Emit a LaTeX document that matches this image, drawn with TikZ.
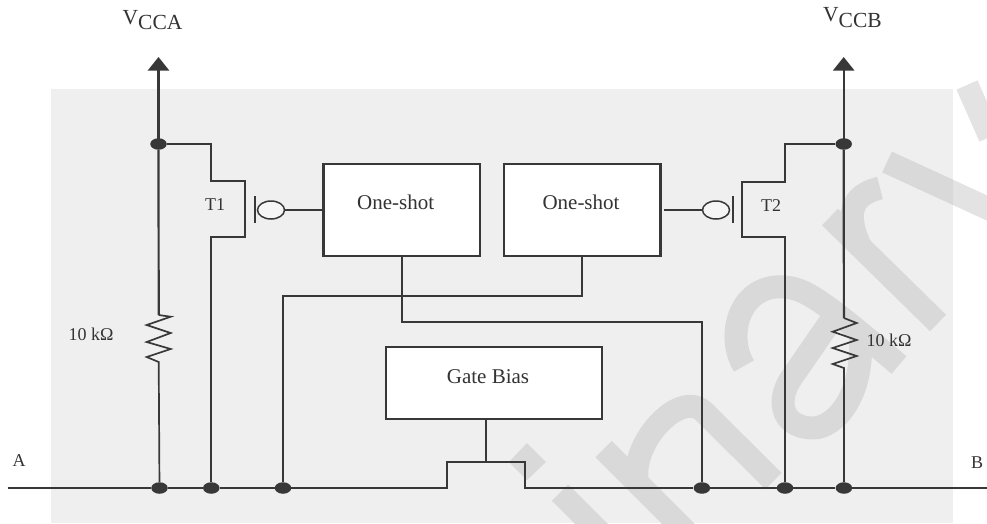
\documentclass[tikz,border=0pt]{standalone}
\usepackage{fontspec}
\setmainfont{Liberation Serif}
\usetikzlibrary{shapes.geometric,arrows.meta}
\definecolor{ink}{HTML}{383838}
\definecolor{txt}{HTML}{333333}
\definecolor{panel}{HTML}{EFEFEF}
\newcommand{\wmark}[1]{%
  \begin{scope}[draw=#1,line width=23pt,line cap=butt,line join=round]
    \draw (560,492.5) -- (600,532.5);
    \fill[#1] (527,443) -- (546,462) -- (527,480) -- (509,462) -- cycle;
    \draw (603.5,449) -- (686,531.5);
    \draw (638,484) .. controls (628,445) and (680,388) .. (704,412) -- (773.5,481);
    \draw (744,366) .. controls (725,335) and (740,283) .. (785,287) .. controls (805,289) and (820,298) .. (899,365);
    \draw (830,322) -- (790,380) .. controls (775,405) and (785,428) .. (813,428) .. controls (835,428) and (865,395) .. (860,335);
    \draw (830,217) -- (938,323);
    \draw (862,250) .. controls (845,215) and (850,195) .. (880,188);
    \draw (887,162) -- (1000,214);
    \draw (967,85) -- (990,137);
  \end{scope}}
\tikzset{
  wire/.style={draw=ink,line width=1.7pt,line join=miter},
  heavy/.style={draw=ink,line width=2.2pt},
  boxnode/.style={draw=ink,line width=2.6pt,fill=white,rectangle,inner sep=0pt},
  dotnode/.style={ellipse,fill=ink,draw=none,minimum width=16.5pt,minimum height=11.5pt,inner sep=0pt},
  bubble/.style={ellipse,draw=ink,line width=1.5pt,fill=white!96!black,minimum width=27pt,minimum height=18pt,inner sep=0pt},
  big/.style={text=txt,font=\fontsize{21}{24}\selectfont,inner sep=0pt},
  small/.style={text=txt,font=\fontsize{18}{20}\selectfont,inner sep=0pt},
  supply/.style={text=txt,font=\fontsize{21.5}{24}\selectfont,inner sep=0pt,anchor=base west},
  rail/.style={heavy,-{Triangle[length=13.5pt,width=21pt]}}
}
\begin{document}
\begin{tikzpicture}[x=1pt,y=-1pt]
\useasboundingbox (0,0) rectangle (987,523);
\begin{scope}
  \clip (0,0) rectangle (987,523);
  \wmark{black!11}
  \fill[panel] (51,89) rectangle (953,523);
  \clip (51,89) rectangle (953,523);
  \wmark{black!15}
\end{scope}
% boxes
\node[boxnode,minimum width=156.5pt,minimum height=92pt] (os1) at (401.7,210) {};
\node[boxnode,minimum width=156.5pt,minimum height=92pt] (os2) at (582.1,210) {};
\node[boxnode,minimum width=216pt,minimum height=72pt] (gb) at (494,383) {};
\node[big] (os1t) at (395.7,202) {One-shot};
\node[big] (os2t) at (581,202) {One-shot};
\node[big] (gbt) at (488,376.5) {Gate Bias};
% rails and junctions
\coordinate (vca) at (158.5,57);
\coordinate (vcb) at (843.7,57);
\coordinate (busl) at (7.5,488);
\coordinate (busr) at (987,488);
\node[dotnode] (ja) at (158.5,144) {};
\node[dotnode] (jb) at (843.7,144) {};
\node[dotnode] (b1) at (159.5,488) {};
\node[dotnode] (b2) at (211.3,488) {};
\node[dotnode] (b3) at (283,488) {};
\node[dotnode] (b4) at (701.9,488) {};
\node[dotnode] (b5) at (785,488) {};
\node[dotnode] (b6) at (843.9,488) {};
\draw[rail] (ja.center) -- (vca);
\draw[rail] (jb.center) -- (vcb);
% bus with gate-bias jog
\coordinate (g1) at (447,462);
\coordinate (g2) at (524.7,462);
\draw[heavy,line width=1.8pt] (busl) -- (b1) -- (b2) -- (b3) -- (g1 |- b3) -- (g1) -- (g2) -- (g2 |- b4) -- (b4) -- (b5) -- (b6) -- (busr);
\coordinate (gbs) at (485.7,419);
\coordinate (gbj) at (485.7,462);
\draw[wire] (gbs) -- (gbj);
% left resistor
\coordinate (ra) at (158.7,315);
\coordinate (rb) at (158.7,362);
\draw[heavy] (ja) -- (ra);
\draw[wire] (ra) -- (170.7,316.7) -- (146.7,325) -- (170.7,333) -- (146.7,342) -- (170.7,349) -- (146.7,357) -- (rb) -- (b1);
% right resistor
\coordinate (rc) at (843.9,318);
\coordinate (rd) at (843.9,368);
\draw[heavy] (jb) -- (rc);
\draw[wire] (rc) -- (856.7,323) -- (832.7,331.7) -- (856.7,340) -- (832.7,348) -- (856.7,356) -- (832.7,364) -- (rd) -- (b6);
% T1
\node[bubble] (bu1) at (271,210) {};
\coordinate (t1a) at (211.3,144);
\coordinate (t1b) at (211.3,181);
\coordinate (t1c) at (245,181);
\coordinate (t1d) at (245,236.7);
\coordinate (t1e) at (211.3,236.7);
\draw[wire] (ja) -- (t1a) -- (t1b) -- (t1c) -- (t1d) -- (t1e) -- (b2);
\coordinate (g1a) at (255,196);
\coordinate (g1b) at (255,223);
\draw[wire] (g1a) -- (g1b);
\draw[wire] (bu1) -- (os1);
% T2
\node[bubble] (bu2) at (716,210) {};
\coordinate (t2a) at (784.7,144);
\coordinate (t2b) at (784.7,181.7);
\coordinate (t2c) at (742,181.7);
\coordinate (t2d) at (742,236.7);
\coordinate (t2e) at (785,236.7);
\draw[wire] (jb) -- (t2a) -- (t2b) -- (t2c) -- (t2d) -- (t2e) -- (b5);
\coordinate (g2a) at (732.7,196);
\coordinate (g2b) at (732.7,223);
\draw[wire] (g2a) -- (g2b);
\coordinate (os2r) at (664,210);
\draw[wire] (os2r) -- (bu2);
% cross wires
\coordinate (x1a) at (401.7,255);
\coordinate (x1b) at (401.7,322);
\coordinate (x1c) at (701.9,322);
\draw[wire] (x1a) -- (x1b) -- (x1c) -- (b4);
\coordinate (x2a) at (582,255);
\coordinate (x2b) at (582,295.7);
\coordinate (x2c) at (283,295.7);
\draw[wire] (x2a) -- (x2b) -- (x2c) -- (b3);
% labels
\node[supply] (vcca) at (122.5,24) {V\raisebox{-5pt}{CCA}};
\node[supply] (vccb) at (823,21) {V\raisebox{-6pt}{CCB}};
\node[small] (t1) at (215,205) {T1};
\node[small] (t2) at (771,205.5) {T2};
\node[small] (r1) at (91,334) {10 kΩ};
\node[small] (r2) at (889,340.5) {10 kΩ};
\node[small] (la) at (19,461) {A};
\node[small] (lb) at (977,463) {B};
\end{tikzpicture}
\end{document}
